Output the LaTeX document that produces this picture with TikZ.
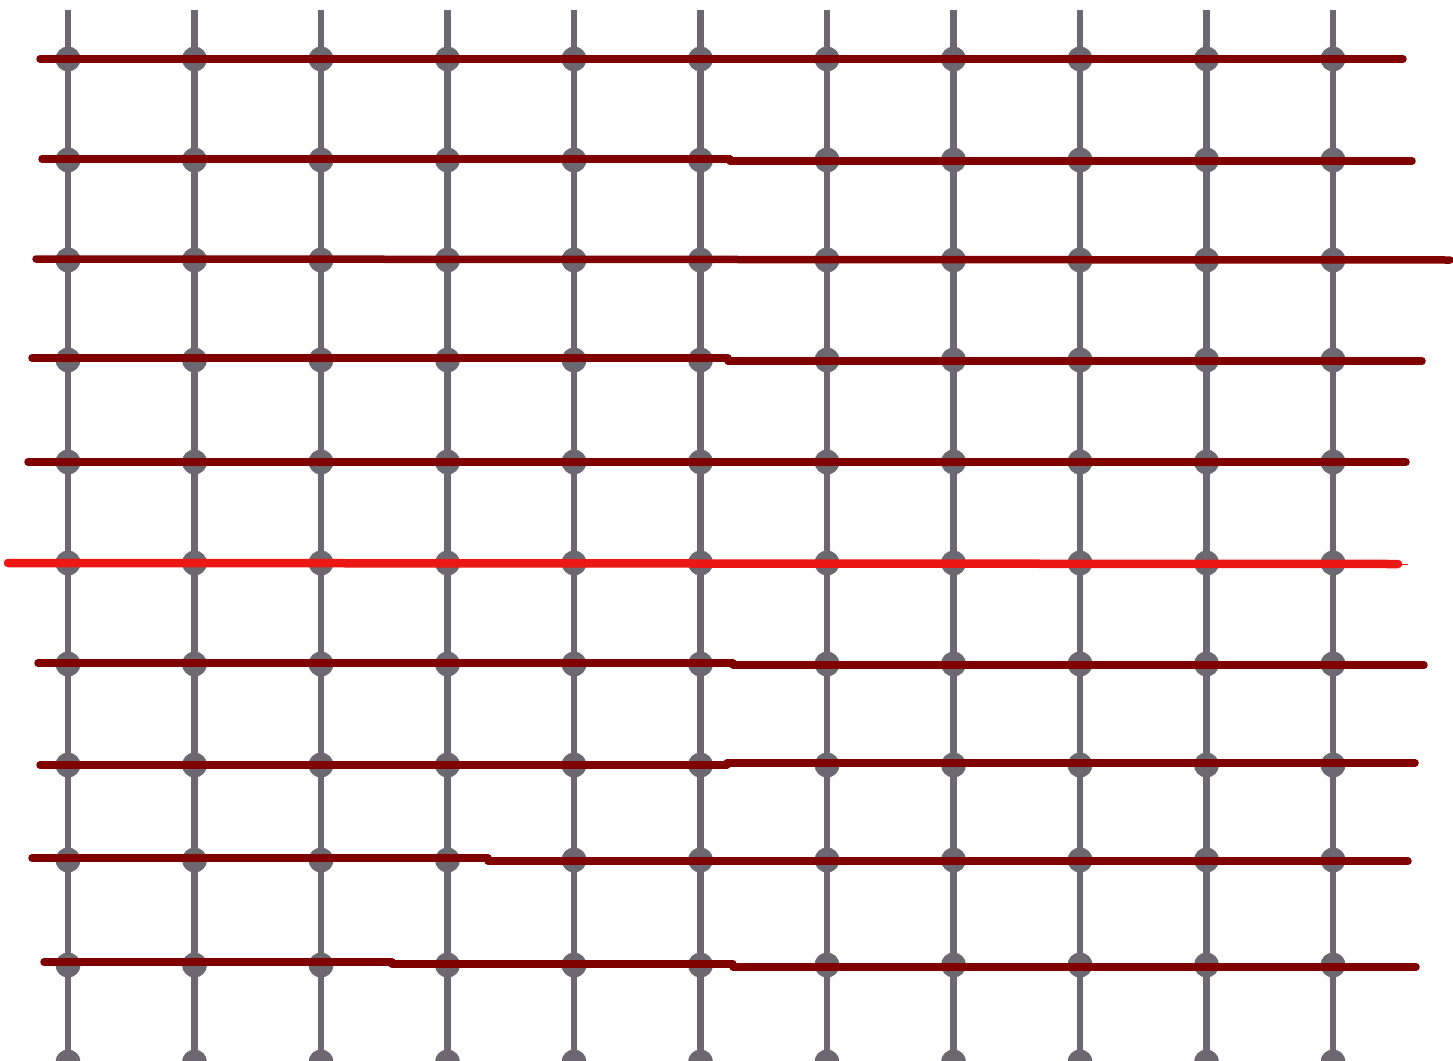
\documentclass[tikz,border=0pt]{standalone}
\usepackage{xcolor}
\usepackage{tikz}
\usetikzlibrary{positioning}

\definecolor{rodgray}{RGB}{108,104,114}
\definecolor{wiremaroon}{RGB}{128,0,0}
\definecolor{wirered}{RGB}{236,22,20}

\begin{document}
\begin{tikzpicture}[
  x=1pt,y=-1pt,
  rod/.style={draw=rodgray,line width=6.5pt},
  knot/.style={circle,fill=rodgray,inner sep=0pt,minimum size=25pt},
  wire/.style={draw=wiremaroon,line width=7.5pt,line cap=round},
  hotwire/.style={draw=wirered,line width=8.5pt,line cap=round}
]
\useasboundingbox (0,0) rectangle (1453,1060);
\fill[white] (0,0) rectangle (1453,1060);

% vertical rods
\foreach \i in {0,...,10}{
  \coordinate (top-\i) at (68+126.5*\i,10);
  \coordinate (bot-\i) at (68+126.5*\i,1075);
  \draw[rod] (top-\i)--(bot-\i);
}
% knots on the rods
\foreach \i in {0,...,10}{
  \foreach \y [count=\j] in {59,160,260,360,462,563,664,765,860,965,1062}{
    \node[knot] (k-\i-\j) at (68+126.5*\i,\y) {};
  }
}

% horizontal wires (drawn in pieces)
\draw[wire] (40,59)--(1403,59);
\draw[wire] (42,159)--(730,159);
\draw[wire] (730,161)--(1412,161);
\draw[wire] (36,259)--(1450,260);
\draw[wire] (32,358)--(728,358);
\draw[wire] (728,361)--(1422,361);
\draw[wire] (28,462)--(1406,462);
\draw[hotwire] (8,563)--(1398,564);
\draw[wirered,line width=1pt] (1398,564)--(1408,564);
\draw[wire] (38,663)--(733,663);
\draw[wire] (733,665)--(1424,665);
\draw[wire] (40,765)--(727,765);
\draw[wire] (727,763)--(1415,763);
\draw[wire] (32,858)--(488,858);
\draw[wire] (488,861)--(1408,861);
\draw[wire] (44,962)--(392,962);
\draw[wire] (392,964)--(733,964);
\draw[wire] (733,967)--(1416,967);
\end{tikzpicture}
\end{document}
